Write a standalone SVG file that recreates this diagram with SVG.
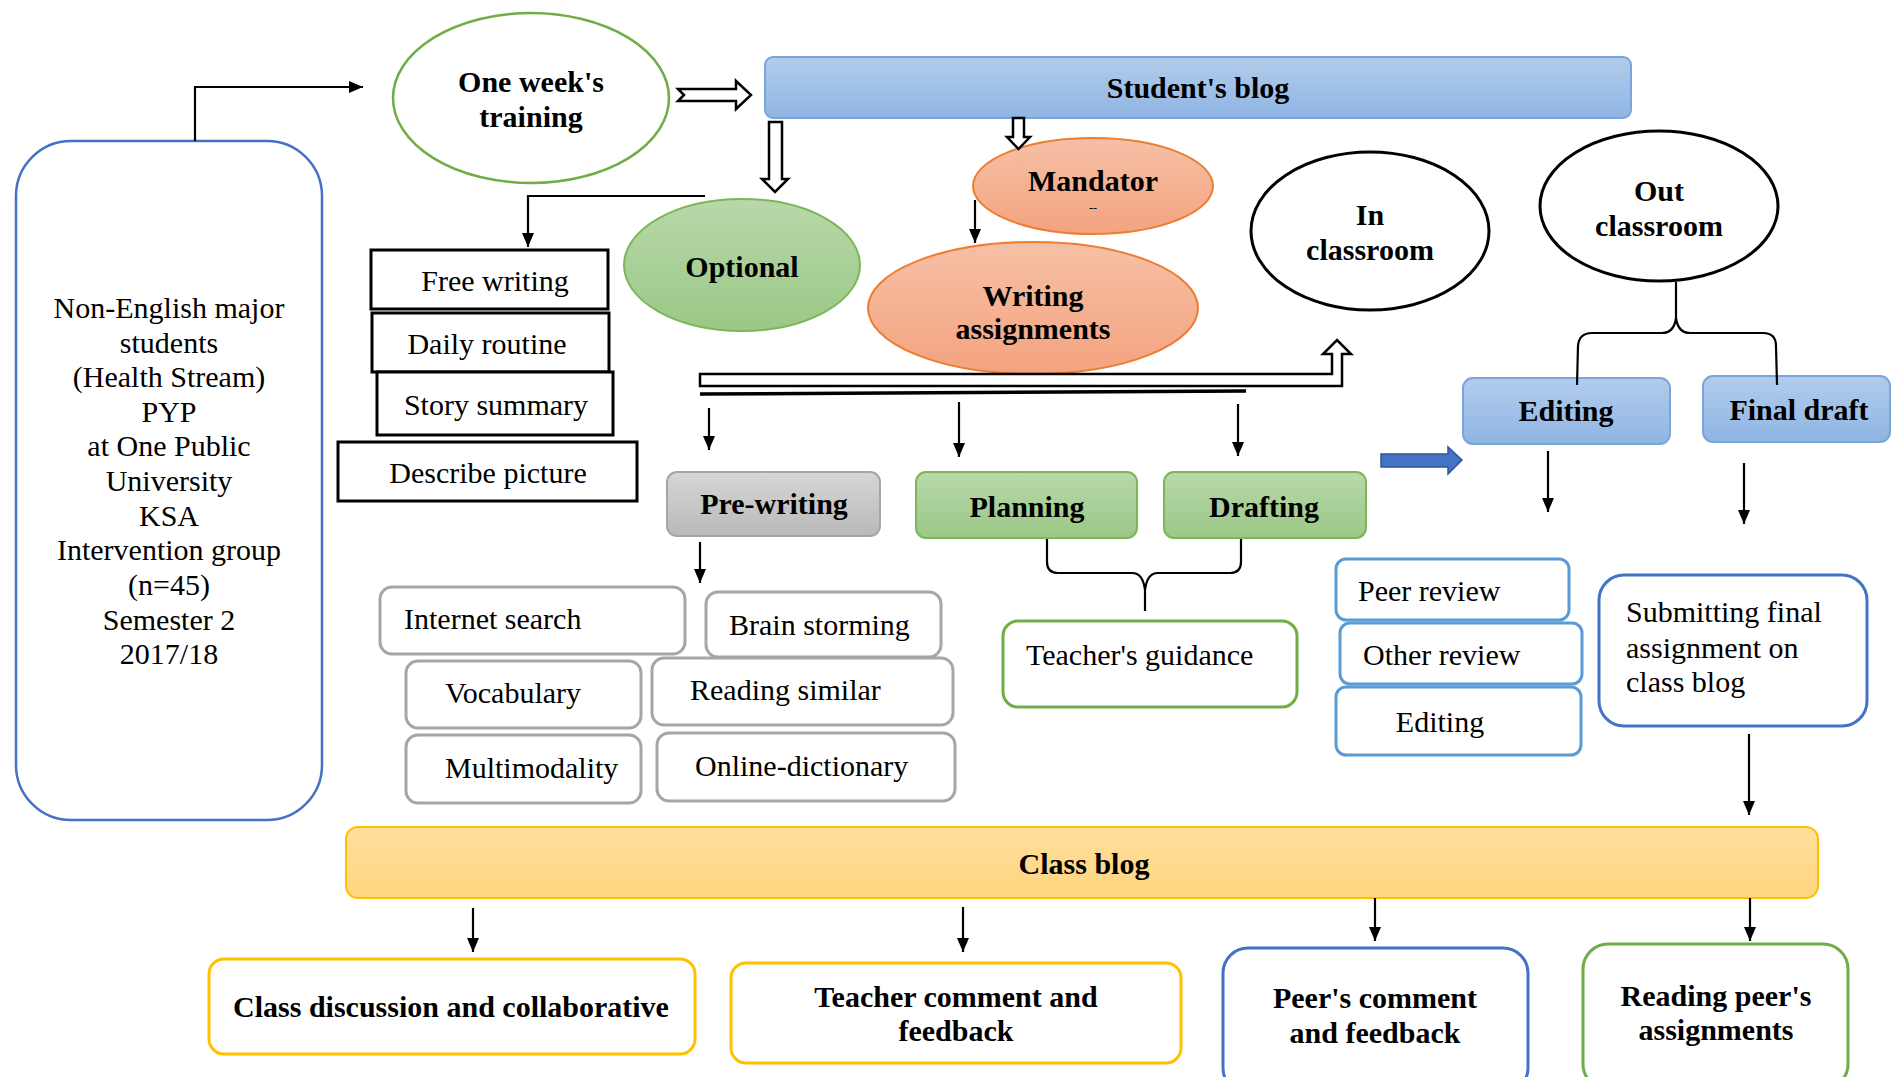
<svg xmlns="http://www.w3.org/2000/svg" width="1892" height="1077" viewBox="0 0 1892 1077">
<defs>
<linearGradient id="gBlue" x1="0" y1="0" x2="0" y2="1"><stop offset="0" stop-color="#B2CCEB"/><stop offset="1" stop-color="#8FB5E3"/></linearGradient>
<linearGradient id="gGreen" x1="0" y1="0" x2="0" y2="1"><stop offset="0" stop-color="#B8D8AA"/><stop offset="1" stop-color="#9BC886"/></linearGradient>
<linearGradient id="gOrange" x1="0" y1="0" x2="0" y2="1"><stop offset="0" stop-color="#F6C0A6"/><stop offset="1" stop-color="#F4A37F"/></linearGradient>
<linearGradient id="gGray" x1="0" y1="0" x2="0" y2="1"><stop offset="0" stop-color="#D6D6D6"/><stop offset="1" stop-color="#B9B9B9"/></linearGradient>
<linearGradient id="gYellow" x1="0" y1="0" x2="0" y2="1"><stop offset="0" stop-color="#FEDF9E"/><stop offset="1" stop-color="#FFD57E"/></linearGradient>
<marker id="ah" markerUnits="userSpaceOnUse" markerWidth="14" markerHeight="12" refX="14" refY="6" orient="auto"><path d="M0,0 L14,6 L0,12 Z" fill="#000"/></marker>
</defs>
<style>
text{font-family:"Liberation Serif","Times New Roman",serif;font-size:30px;fill:#000}
.b{font-weight:bold}
.c{text-anchor:middle}
.blue{fill:url(#gBlue);stroke:#7AA5DA;stroke-width:2}
.green{fill:url(#gGreen);stroke:#7DB65A;stroke-width:2}
.orange{fill:url(#gOrange);stroke:#ED7D31;stroke-width:2}
.gray{fill:url(#gGray);stroke:#A6A6A6;stroke-width:2}
.yel{fill:url(#gYellow);stroke:#FFC000;stroke-width:2}
.blk{fill:#fff;stroke:#000;stroke-width:3}
.gbox{fill:#fff;stroke:#A6A6A6;stroke-width:3}
.bbox{fill:#fff;stroke:#5B9BD5;stroke-width:3}
.ln{fill:none;stroke:#000;stroke-width:2.2}
.hol{fill:#fff;stroke:#000;stroke-width:2.5}
</style>

<g id="participants"><rect x="16" y="141" width="306" height="679" rx="55" fill="#fff" stroke="#4472C4" stroke-width="2.5"/>
<text class="c" x="169"><tspan x="169" y="318">Non-English major</tspan><tspan x="169" y="353">students</tspan><tspan x="169" y="387">(Health Stream)</tspan><tspan x="169" y="422">PYP</tspan><tspan x="169" y="456">at One Public</tspan><tspan x="169" y="491">University</tspan><tspan x="169" y="526">KSA</tspan><tspan x="169" y="560">Intervention group</tspan><tspan x="169" y="595">(n=45)</tspan><tspan x="169" y="630">Semester 2</tspan><tspan x="169" y="664">2017/18</tspan></text></g>

<g id="training"><ellipse cx="531" cy="98" rx="138" ry="85" fill="#fff" stroke="#70AD47" stroke-width="2.5"/>
<text class="b c" x="531" y="92">One week's</text><text class="b c" x="531" y="127">training</text></g>

<g id="students-blog"><rect x="765" y="57" width="866" height="61" rx="8" class="blue"/>
<text class="b c" x="1198" y="98">Student's blog</text></g>

<g id="optional"><ellipse cx="742" cy="265" rx="118" ry="66" class="green"/>
<text class="b c" x="742" y="277">Optional</text></g>

<g id="mandator"><ellipse cx="1093" cy="186" rx="120" ry="48" class="orange"/>
<text class="b c" x="1093" y="191">Mandator</text><text class="c" x="1093" y="212" style="font-size:12px">--</text></g>

<g id="writing-assignments"><ellipse cx="1033" cy="308" rx="165" ry="66" class="orange"/>
<text class="b c" x="1033" y="306">Writing</text><text class="b c" x="1033" y="339">assignments</text></g>

<g id="in-classroom"><ellipse cx="1370" cy="231" rx="119" ry="79" fill="#fff" stroke="#000" stroke-width="3"/>
<text class="b c" x="1370" y="225">In</text><text class="b c" x="1370" y="260">classroom</text></g>

<g id="out-classroom"><ellipse cx="1659" cy="206" rx="119" ry="75" fill="#fff" stroke="#000" stroke-width="3"/>
<text class="b c" x="1659" y="201">Out</text><text class="b c" x="1659" y="236">classroom</text></g>

<g id="free-writing"><rect x="371" y="250" width="237" height="59" class="blk"/><text class="c" x="495" y="291">Free writing</text></g>
<g id="daily-routine"><rect x="372" y="313" width="237" height="59" class="blk"/><text class="c" x="487" y="354">Daily routine</text></g>
<g id="story-summary"><rect x="377" y="372" width="236" height="63" class="blk"/><text class="c" x="496" y="415">Story summary</text></g>
<g id="describe-picture"><rect x="338" y="442" width="299" height="59" class="blk"/><text class="c" x="488" y="483">Describe picture</text></g>

<g id="pre-writing"><rect x="667" y="472" width="213" height="64" rx="10" class="gray"/><text class="b c" x="774" y="514">Pre-writing</text></g>
<g id="planning"><rect x="916" y="472" width="221" height="66" rx="10" class="green"/><text class="b c" x="1027" y="517">Planning</text></g>
<g id="drafting"><rect x="1164" y="472" width="202" height="66" rx="10" class="green"/><text class="b c" x="1264" y="517">Drafting</text></g>

<g id="internet-search"><rect x="380" y="587" width="305" height="67" rx="12" class="gbox"/><text x="404" y="629">Internet search</text></g>
<g id="brain-storming"><rect x="706" y="592" width="235" height="65" rx="12" class="gbox"/><text x="729" y="635">Brain storming</text></g>
<g id="vocabulary"><rect x="406" y="661" width="235" height="67" rx="12" class="gbox"/><text x="445" y="703">Vocabulary</text></g>
<g id="reading-similar"><rect x="652" y="658" width="301" height="67" rx="12" class="gbox"/><text x="690" y="700">Reading similar</text></g>
<g id="multimodality"><rect x="406" y="735" width="235" height="68" rx="12" class="gbox"/><text x="445" y="778">Multimodality</text></g>
<g id="online-dictionary"><rect x="657" y="733" width="298" height="68" rx="12" class="gbox"/><text x="695" y="776">Online-dictionary</text></g>

<g id="teachers-guidance"><rect x="1003" y="621" width="294" height="86" rx="15" fill="#fff" stroke="#70AD47" stroke-width="3"/><text x="1026" y="665">Teacher's guidance</text></g>

<g id="editing-head"><rect x="1463" y="378" width="207" height="66" rx="10" class="blue"/><text class="b c" x="1566" y="421">Editing</text></g>
<g id="final-draft"><rect x="1703" y="376" width="187" height="66" rx="10" class="blue"/><text class="b c" x="1799" y="420">Final draft</text></g>

<g id="peer-review"><rect x="1336" y="559" width="233" height="61" rx="10" class="bbox"/><text x="1358" y="601">Peer review</text></g>
<g id="other-review"><rect x="1340" y="623" width="242" height="61" rx="10" class="bbox"/><text x="1363" y="665">Other review</text></g>
<g id="editing"><rect x="1336" y="687" width="245" height="68" rx="10" class="bbox"/><text class="c" x="1440" y="732">Editing</text></g>

<g id="submitting"><rect x="1599" y="575" width="268" height="151" rx="25" fill="#fff" stroke="#4472C4" stroke-width="3"/>
<text x="1626" y="622">Submitting final</text><text x="1626" y="658">assignment on</text><text x="1626" y="692">class blog</text></g>

<g id="class-blog"><rect x="346" y="827" width="1472" height="71" rx="12" class="yel"/><text class="b c" x="1084" y="874">Class blog</text></g>

<g id="class-discussion"><rect x="209" y="959" width="486" height="95" rx="15" fill="#fff" stroke="#FFC000" stroke-width="3"/><text class="b c" x="451" y="1017">Class discussion and collaborative</text></g>
<g id="teacher-comment"><rect x="731" y="963" width="450" height="100" rx="15" fill="#fff" stroke="#FFC000" stroke-width="3"/><text class="b c" x="956" y="1007">Teacher comment and</text><text class="b c" x="956" y="1041">feedback</text></g>
<g id="peers-comment"><rect x="1223" y="948" width="305" height="145" rx="25" fill="#fff" stroke="#4472C4" stroke-width="3"/><text class="b c" x="1375" y="1008">Peer's comment</text><text class="b c" x="1375" y="1043">and feedback</text></g>
<g id="reading-peers"><rect x="1583" y="944" width="265" height="145" rx="25" fill="#fff" stroke="#70AD47" stroke-width="3"/><text class="b c" x="1716" y="1006">Reading peer's</text><text class="b c" x="1716" y="1040">assignments</text></g>

<g id="connectors">
<path class="ln" d="M195,141 L195,87 L363,87" marker-end="url(#ah)"/>
<polygon class="hol" points="678,89 736,89 736,81 751,95 736,109 736,101 678,101 684,95"/>
<polygon class="hol" points="769,122 782,122 782,179 788,179 775,192 762,179 769,179"/>
<polygon class="hol" points="1013,118 1024,118 1024,137 1030,137 1018.5,149 1007,137 1013,137"/>
<path class="ln" d="M705,196 L528,196 L528,247" marker-end="url(#ah)"/>
<path class="ln" d="M975,200 L975,243" marker-end="url(#ah)"/>
<polygon class="hol" points="700,374 1332,374 1332,354 1323,354 1337,340 1351,354 1342,354 1342,386 700,386"/>
<path d="M700,394 L1246,391" fill="none" stroke="#000" stroke-width="3.5"/>
<path class="ln" d="M709,408 L709,450" marker-end="url(#ah)"/>
<path class="ln" d="M959,402 L959,457" marker-end="url(#ah)"/>
<path class="ln" d="M1238,404 L1238,456" marker-end="url(#ah)"/>
<path class="ln" d="M700,542 L700,583" marker-end="url(#ah)"/>
<path class="ln" d="M1047,539 L1047,562 Q1047,573 1058,573 L1132,573 Q1143,573 1145,590 L1145,611 M1145,590 Q1147,573 1158,573 L1230,573 Q1241,573 1241,562 L1241,539"/>
<path class="ln" d="M1676,282 L1676,318 Q1674,333 1662,333 L1592,333 Q1579,333 1578,346 L1577,385 M1676,318 Q1678,333 1690,333 L1763,333 Q1776,333 1776,346 L1777,385"/>
<polygon points="1381,454 1448,454 1448,447 1462,460 1448,474 1448,467 1381,467" fill="#4472C4" stroke="#2F5597" stroke-width="1.5"/>
<path class="ln" d="M1548,451 L1548,512" marker-end="url(#ah)"/>
<path class="ln" d="M1744,463 L1744,524" marker-end="url(#ah)"/>
<path class="ln" d="M1749,734 L1749,815" marker-end="url(#ah)"/>
<path class="ln" d="M473,908 L473,952" marker-end="url(#ah)"/>
<path class="ln" d="M963,907 L963,952" marker-end="url(#ah)"/>
<path class="ln" d="M1375,898 L1375,941" marker-end="url(#ah)"/>
<path class="ln" d="M1750,898 L1750,941" marker-end="url(#ah)"/>
</g>
</svg>
